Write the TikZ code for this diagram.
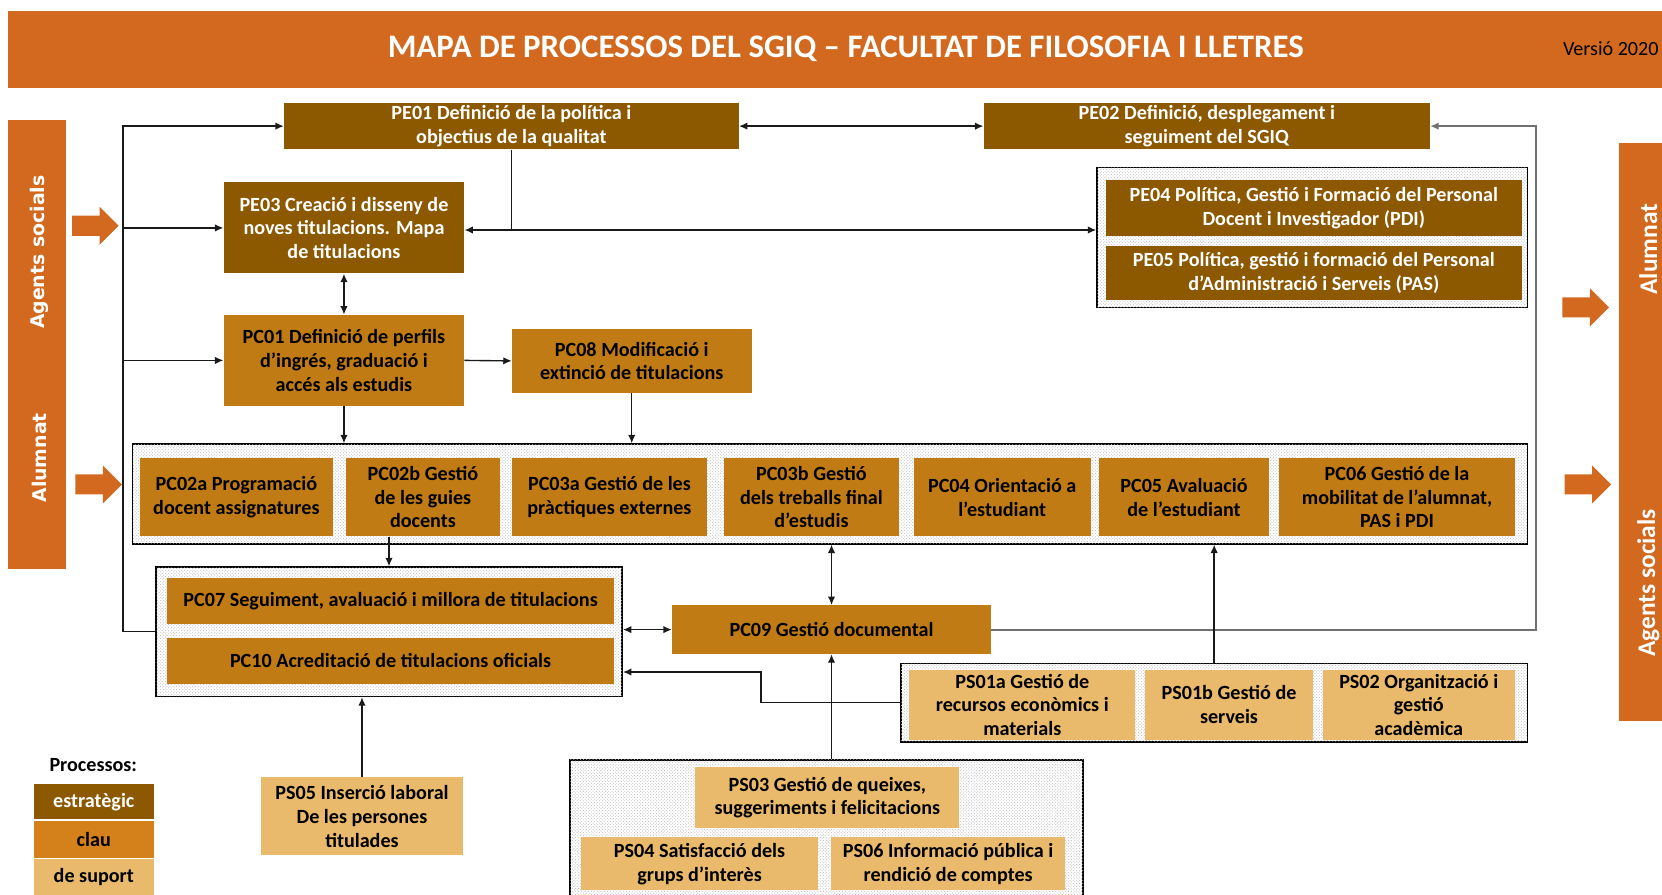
\documentclass[tikz,border=0pt]{standalone}
\usepackage{fontspec}
\setmainfont{Carlito}
\newfontfamily\sidefont{DejaVu Sans}
\usetikzlibrary{arrows.meta,patterns,calc}
\definecolor{estc}{HTML}{8C5800}
\definecolor{clauc}{HTML}{C17B14}
\definecolor{legclauc}{HTML}{D4801B}
\definecolor{supc}{HTML}{E9B96C}
\definecolor{orangec}{HTML}{D2691F}
\definecolor{linec}{HTML}{1A1A1A}
\definecolor{trunkc}{HTML}{707070}
\newcommand\boxfont{\fontsize{19}{22.5}\selectfont\bfseries}
\newcommand\blkarrow[2]{\fill[orangec] (#1,#2) ++(0,-9.5) -- ++(26,0) -- ++(0,-8.5) -- ++(18,18) -- ++(-18,18) -- ++(0,-8.5) -- ++(-26,0) -- cycle;}
\tikzset{
  bx/.style 2 args={rectangle, inner sep=0pt, minimum width=#1pt, minimum height=#2pt, align=center, font=\boxfont},
  est/.style={fill=estc, text=white},
  clau/.style={fill=clauc, text=black},
  sup/.style={fill=supc, text=black},
  grp/.style={draw=black, line width=1.5pt, fill=white, postaction={pattern=crosshatch dots, pattern color=gray!55}},
  lin/.style={draw=linec, line width=1.3pt},
  arr/.style={lin, -{Latex[length=8pt,width=7pt]}},
  darr/.style={lin, {Latex[length=8pt,width=7pt]}-{Latex[length=8pt,width=7pt]}},
  trunk/.style={draw=trunkc, line width=1.8pt},
  sidetxt/.style={rotate=90, text=white, font=\sidefont\bfseries\fontsize{17.8}{20}\selectfont},
  rsidetxt/.style={rotate=90, text=white, font=\bfseries\fontsize{24}{26}\selectfont},
}
\begin{document}
\begin{tikzpicture}[x=1pt,y=-1pt]
\useasboundingbox (0,0) rectangle (1568,844);
% header
\fill[orangec] (8,10) rectangle (1580,83);
\node[text=white, font=\bfseries\fontsize{31}{34}\selectfont] (title) at (798,46) {MAPA DE PROCESSOS DEL SGIQ – FACULTAT DE FILOSOFIA I LLETRES};
\node[anchor=east, text=black, font=\fontsize{19}{21}\selectfont, inner sep=0pt] (ver) at (1565,46) {Versió 2020};
% side bars
\fill[orangec] (8,113) rectangle (62,537);
\node[sidetxt] (lag) at (37,238) {Agents socials};
\node[sidetxt] (lal) at (37,432) {Alumnat};
\fill[orangec] (1527,135) rectangle (1580,680);
\node[rsidetxt] (ral) at (1555,235) {Alumnat};
\node[rsidetxt] (rag) at (1555,550) {Agents socials};
\blkarrow{68}{213}
\blkarrow{71}{457}
\blkarrow{1474}{290}
\blkarrow{1476}{457}
% groups
\node[grp, bx={406}{132}] (pe45grp) at (1238,224) {};
\node[grp, bx={1316}{94}] (pcgrp) at (783,466) {};
\node[grp, bx={440}{122}] (pc7grp) at (367,596) {};
\node[grp, bx={591}{74}] (ps1grp) at (1145.5,663) {};
\node[grp, bx={484}{140}] (ps3grp) at (780,787) {};
% strategic
\node[est, bx={429}{44}] (pe01) at (482.5,119) {PE01 Definició de la política i\\objectius de la qualitat};
\node[est, bx={421}{44}] (pe02) at (1138.5,119) {PE02 Definició, desplegament i\\seguiment del SGIQ};
\node[est, bx={227}{86}] (pe03) at (324.5,215) {PE03 Creació i disseny de\\noves titulacions. Mapa\\de titulacions};
\node[est, bx={393}{53}] (pe04) at (1239.5,196.5) {PE04 Política, Gestió i Formació del Personal\\Docent i Investigador (PDI)};
\node[est, bx={393}{51}] (pe05) at (1239.5,257.5) {PE05 Política, gestió i formació del Personal\\d’Administració i Serveis (PAS)};
% key
\node[clau, bx={227}{86}] (pc01) at (324.5,340) {PC01 Definició de perfils\\d’ingrés, graduació i\\accés als estudis};
\node[clau, bx={226}{61}] (pc08) at (596,340.5) {PC08 Modificació i\\extinció de titulacions};
\node[clau, bx={182}{74}] (pc02a) at (223,469) {PC02a Programació\\docent assignatures};
\node[clau, bx={146}{74}] (pc02b) at (399,469) {PC02b Gestió\\de les guies\\docents};
\node[clau, bx={184}{74}] (pc03a) at (575,469) {PC03a Gestió de les\\pràctiques externes};
\node[clau, bx={165}{74}] (pc03b) at (765.5,469) {PC03b Gestió\\dels treballs final\\d’estudis};
\node[clau, bx={167}{74}] (pc04) at (945.5,469) {PC04 Orientació a\\l’estudiant};
\node[clau, bx={160}{74}] (pc05) at (1117,469) {PC05 Avaluació\\de l’estudiant};
\node[clau, bx={222}{74}] (pc06) at (1318,469) {PC06 Gestió de la\\mobilitat de l’alumnat,\\PAS i PDI};
\node[clau, bx={421}{44}] (pc07) at (368.5,567) {PC07 Seguiment, avaluació i millora de titulacions};
\node[clau, bx={421}{43}] (pc10) at (368.5,623.5) {PC10 Acreditació de titulacions oficials};
\node[clau, bx={301}{46}] (pc09) at (784.5,594) {PC09 Gestió documental};
% support
\node[sup, bx={213}{66}] (ps01a) at (964.5,665) {PS01a Gestió de\\recursos econòmics i\\materials};
\node[sup, bx={159}{66}] (ps01b) at (1159.5,665) {PS01b Gestió de\\serveis};
\node[sup, bx={181}{66}] (ps02) at (1338.5,665) {PS02 Organització i\\gestió\\acadèmica};
\node[sup, bx={191}{74}] (ps05) at (341.5,770) {PS05 Inserció laboral\\De les persones\\titulades};
\node[sup, bx={249}{57}] (ps03) at (780.5,752.5) {PS03 Gestió de queixes,\\suggeriments i felicitacions};
\node[sup, bx={224}{50}] (ps04) at (660,815) {PS04 Satisfacció dels\\grups d’interès};
\node[sup, bx={221}{50}] (ps06) at (894.5,815) {PS06 Informació pública i\\rendició de comptes};
% legend
\node[font=\bfseries\fontsize{19}{22}\selectfont, text=black] (leg) at (88,722) {Processos:};
\node[est, bx={113}{33}] (lest) at (88.5,756.5) {estratègic};
\node[clau, fill=legclauc, bx={113}{34}] (lclau) at (88.5,792) {clau};
\node[sup, bx={113}{34}] (lsup) at (88.5,827) {de suport};
% coordinates
\coordinate (LT) at (116,0);
\coordinate (RT) at (1449,0);
\coordinate (HY) at (0,217);
\coordinate (J) at (718,0);
\coordinate (K) at (0,634);
% connectors
\draw[arr] (pc7grp.west) -- (pc7grp.west -| LT) -- (LT |- pe01.west) -- (pe01.west);
\draw[arr] (LT |- pe03.west) -- (pe03.west);
\draw[arr] (LT |- pc01.west) -- (pc01.west);
\draw[darr] (pe01.east) -- (pe02.west);
\draw[lin] (pe01.south) -- (pe01.south |- HY);
\draw[darr] (pe03.east |- HY) -- (pe45grp.west |- HY);
\draw[trunk, -{Latex[length=8pt,width=7pt]}] (pc09.east) -- (pc09.east -| RT) -- (RT |- pe02.east) -- (pe02.east);
\draw[darr] (pe03.south) -- (pc01.north);
\draw[arr] (pc01.east) -- (pc08.west);
\draw[arr] (pc01.south) -- (pc01.south |- pcgrp.north);
\draw[arr] (pc08.south) -- (pc08.south |- pcgrp.north);
\draw[arr] (pc02b.south -| pc7grp.north) -- (pc7grp.north);
\draw[darr] (pcgrp.south -| pc09.north) -- (pc09.north);
\draw[darr] (pc09.west -| pc7grp.east) -- (pc09.west);
\draw[arr] (ps1grp.west) -- (ps1grp.west -| J) -- (J |- K) -- (pc7grp.east |- K);
\draw[arr] (pc09.south |- ps3grp.north) -- (pc09.south);
\draw[arr] (ps1grp.north) -- (ps1grp.north |- pcgrp.south);
\draw[arr] (ps05.north) -- (ps05.north |- pc7grp.south);
\end{tikzpicture}
\end{document}
